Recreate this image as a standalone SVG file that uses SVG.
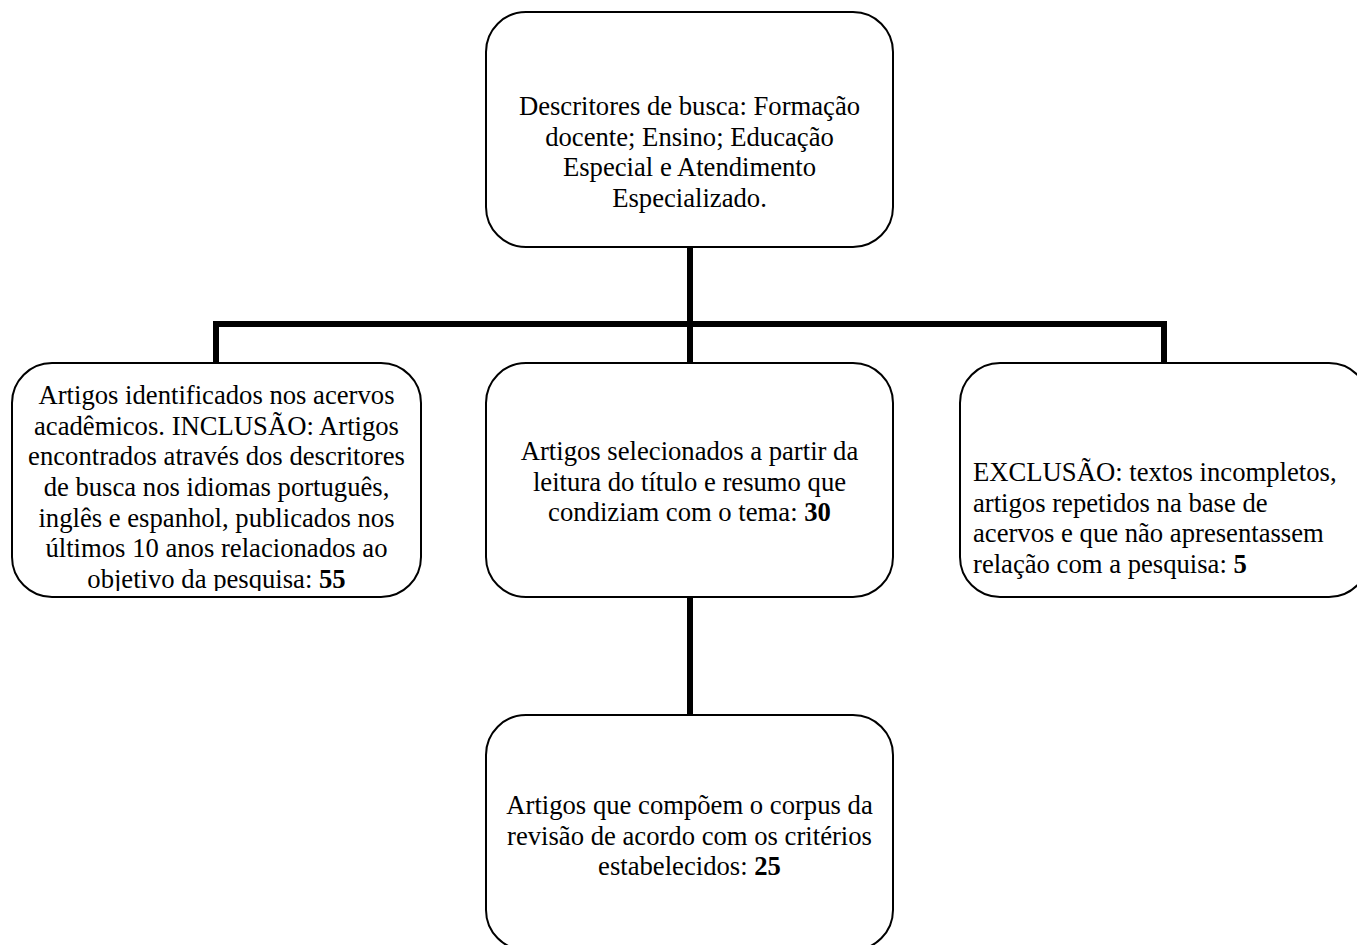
<svg xmlns="http://www.w3.org/2000/svg" width="1357" height="945" viewBox="0 0 1357 945">
<style>
.box{fill:#fff;stroke:#000;stroke-width:2}
.t{font-family:"Liberation Serif","Times New Roman",serif;font-size:26.67px;fill:#000}
.c{text-anchor:middle}
.b{font-weight:bold}
.conn{stroke:#000;stroke-width:6;fill:none;stroke-linecap:butt}
</style>
<defs>
<clipPath id="clipL"><rect x="0" y="360" width="430" height="231"/></clipPath>
</defs>
<rect width="1357" height="945" fill="#fff"/>
<g id="connectors">
<line class="conn" x1="690" y1="247" x2="690" y2="324"/>
<polyline class="conn" points="216,363 216,324 1164,324 1164,363"/>
<line class="conn" x1="690" y1="324" x2="690" y2="363"/>
<line class="conn" x1="690" y1="597" x2="690" y2="715"/>
</g>
<g id="node-top">
<rect class="box" x="486" y="12" width="407" height="235" rx="40"/>
<text class="t c" x="689.5" y="115">Descritores de busca: Formação</text>
<text class="t c" x="689.5" y="145.7">docente; Ensino; Educação</text>
<text class="t c" x="689.5" y="176.3">Especial e Atendimento</text>
<text class="t c" x="689.5" y="207">Especializado.</text>
</g>
<g id="node-left">
<rect class="box" x="12" y="363" width="409" height="234" rx="40"/>
<g clip-path="url(#clipL)">
<text class="t c" x="216.5" y="404">Artigos identificados nos acervos</text>
<text class="t c" x="216.5" y="434.7">acadêmicos. INCLUSÃO: Artigos</text>
<text class="t c" x="216.5" y="465.3">encontrados através dos descritores</text>
<text class="t c" x="216.5" y="496">de busca nos idiomas português,</text>
<text class="t c" x="216.5" y="526.7">inglês e espanhol, publicados nos</text>
<text class="t c" x="216.5" y="557.3">últimos 10 anos relacionados ao</text>
<text class="t c" x="216.5" y="588">objetivo da pesquisa: <tspan class="b">55</tspan></text>
</g>
</g>
<g id="node-center">
<rect class="box" x="486" y="363" width="407" height="234" rx="40"/>
<text class="t c" x="689.5" y="460">Artigos selecionados a partir da</text>
<text class="t c" x="689.5" y="490.7">leitura do título e resumo que</text>
<text class="t c" x="689.5" y="521.3">condiziam com o tema: <tspan class="b">30</tspan></text>
</g>
<g id="node-right">
<rect class="box" x="960" y="363" width="409" height="234" rx="40"/>
<text class="t" x="973" y="481">EXCLUSÃO: textos incompletos,</text>
<text class="t" x="973" y="511.7">artigos repetidos na base de</text>
<text class="t" x="973" y="542.3">acervos e que não apresentassem</text>
<text class="t" x="973" y="573">relação com a pesquisa: <tspan class="b">5</tspan></text>
</g>
<g id="node-bottom">
<rect class="box" x="486" y="715" width="407" height="235" rx="40"/>
<text class="t c" x="689.5" y="814">Artigos que compõem o corpus da</text>
<text class="t c" x="689.5" y="844.7">revisão de acordo com os critérios</text>
<text class="t c" x="689.5" y="875.3">estabelecidos: <tspan class="b">25</tspan></text>
</g>
</svg>
